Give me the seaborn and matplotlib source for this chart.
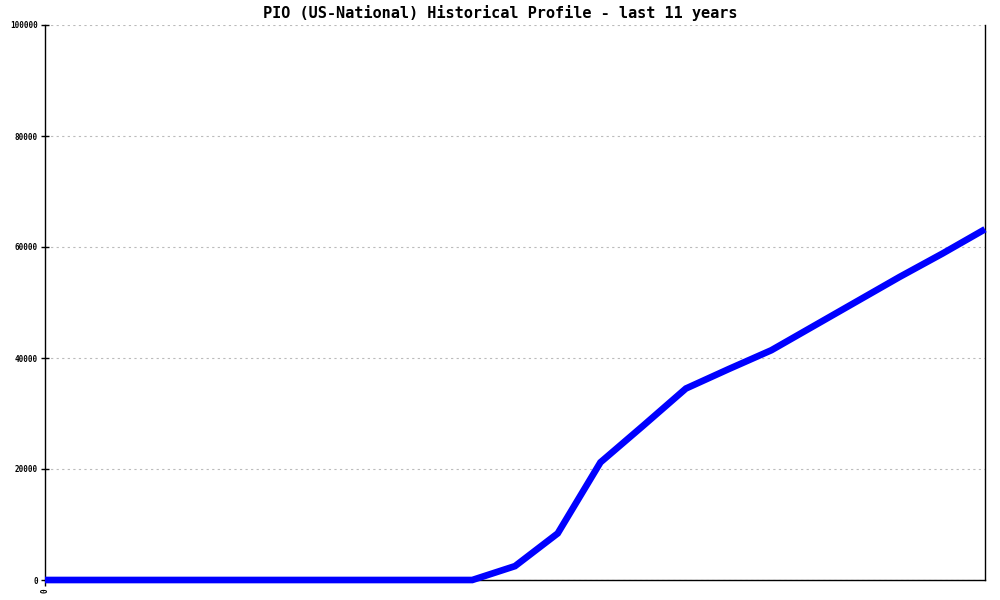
import numpy as np
import pandas as pd
import matplotlib
matplotlib.use("Agg")
import matplotlib.pyplot as plt
import seaborn as sns

# --- Daten ---
TITLE = "PIO (US-National) Historical Profile - last 11 years"
periods = list(range(23))
counts = [0, 0, 0, 0, 0, 0, 0, 0, 0, 0, 0,
          2500, 8400, 21200, 27800, 34500, 38000, 41400,
          45800, 50200, 54600, 58800, 63200]
y_ticks = [0, 20000, 40000, 60000, 80000, 100000]
x_ticks = [0]

df = pd.DataFrame({"period": periods, "count": counts})

sns.set_style("white")
plt.rcParams["font.family"] = ["DejaVu Sans Mono", "Liberation Mono"]
plt.rcParams["text.color"] = "black"

fig = plt.figure(figsize=(10, 6), dpi=100)
ax = fig.add_axes([0.045, 20 / 600, 0.94, 555 / 600])

sns.lineplot(data=df, x="period", y="count", ax=ax, color="#0000ff",
             linewidth=4.8, solid_joinstyle="miter", solid_capstyle="butt",
             clip_on=False, zorder=5)

ax.set_xlim(periods[0], periods[-1])
ax.set_ylim(y_ticks[0], y_ticks[-1])
ax.set_yticks(y_ticks)
ax.set_yticklabels([str(v) for v in y_ticks], fontsize=5.5, fontweight="bold")
ax.set_xticks(x_ticks)
ax.set_xticklabels([str(v) for v in x_ticks], fontsize=5.5, fontweight="bold", rotation=90)
ax.set_xlabel("")
ax.set_ylabel("")

ax.yaxis.grid(True, linestyle=(0, (2, 3)), color="#bbbbbb", linewidth=0.8)
ax.xaxis.grid(False)
ax.tick_params(axis="y", direction="inout", length=6, width=1, pad=2,
               colors="black", labelcolor="black", left=True)
ax.tick_params(axis="x", direction="out", length=4, width=1, pad=2,
               colors="black", labelcolor="black", bottom=True)

for side in ["left", "bottom", "right"]:
    ax.spines[side].set_visible(True)
    ax.spines[side].set_color("black")
    ax.spines[side].set_linewidth(1)
ax.spines["top"].set_visible(False)

fig.suptitle(TITLE, y=1 - 13 / 600, va="center", fontsize=11,
             fontweight="bold", color="black")

fig.savefig("out.png", dpi=100, facecolor="white")
